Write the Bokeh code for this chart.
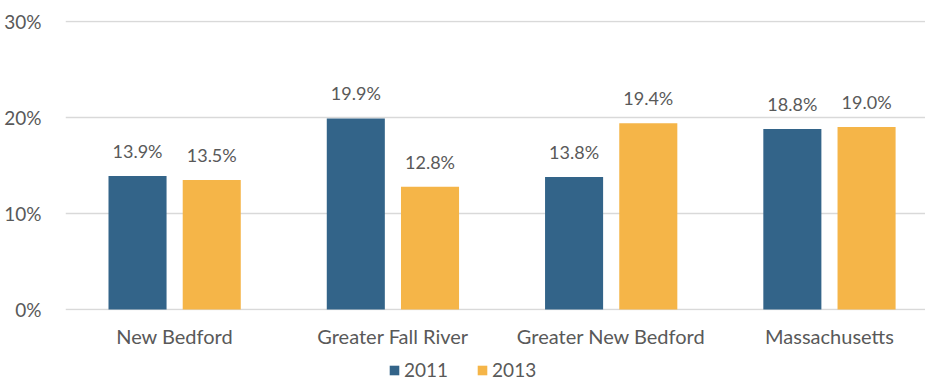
from bokeh.plotting import figure
from bokeh.layouts import column
from bokeh.models import ColumnDataSource, Range1d, NumeralTickFormatter, FixedTicker, Legend, LegendItem
from bokeh.core.properties import value
from bokeh.embed import file_html
from bokeh.resources import INLINE

categories = ["New Bedford", "Greater Fall River", "Greater New Bedford", "Massachusetts"]
series_names = ["2011", "2013"]
values_2011 = [13.9, 19.9, 13.8, 18.8]
values_2013 = [13.5, 12.8, 19.4, 19.0]
y_ticks = [0, 10, 20, 30]

BLUE = "#336489"
ORANGE = "#F5B548"
TEXT = "#595959"
GRID = "#D9D9D9"
FONT = "Lato"

p = figure(width=925, height=355, output_backend="svg", toolbar_location=None,
           x_range=Range1d(-0.5, 3.44), y_range=Range1d(-0.1, 30.1))
p.min_border_left = 65
p.min_border_right = 0
p.min_border_top = 20
p.min_border_bottom = 45
p.outline_line_color = None

xs = list(range(len(categories)))
off = 0.17
w = 0.266
src1 = ColumnDataSource(dict(x=[x - off for x in xs], top=values_2011,
                             lab=[f"{v:.1f}%" for v in values_2011]))
src2 = ColumnDataSource(dict(x=[x + off for x in xs], top=values_2013,
                             lab=[f"{v:.1f}%" for v in values_2013]))
r1 = p.vbar(x="x", top="top", width=w, source=src1, fill_color=BLUE, line_color=None)
r2 = p.vbar(x="x", top="top", width=w, source=src2, fill_color=ORANGE, line_color=None)

for s in (src1, src2):
    p.text(x="x", y="top", text="lab", source=s, text_align="center", text_baseline="alphabetic",
           y_offset=-25, text_font=value(FONT), text_font_size="18px", text_color=TEXT)

p.yaxis.ticker = FixedTicker(ticks=y_ticks)
p.yaxis.formatter = NumeralTickFormatter(format="0")
p.yaxis.major_label_overrides = {t: f"{t}%" for t in y_ticks}
p.yaxis.axis_line_color = None
p.yaxis.major_tick_line_color = None
p.yaxis.minor_tick_line_color = None
p.yaxis.major_label_standoff = 18
p.yaxis.major_label_text_font = FONT
p.yaxis.major_label_text_font_size = "19px"
p.yaxis.major_label_text_color = TEXT

p.xaxis.ticker = FixedTicker(ticks=xs)
p.xaxis.major_label_overrides = {i: c for i, c in enumerate(categories)}
p.xaxis.axis_line_color = None
p.xaxis.major_tick_line_color = None
p.xaxis.minor_tick_line_color = None
p.xaxis.major_label_standoff = 7
p.xaxis.major_label_text_font = FONT
p.xaxis.major_label_text_font_size = "20px"
p.xaxis.major_label_text_color = TEXT

p.xgrid.grid_line_color = None
p.ygrid.grid_line_color = GRID
p.ygrid.grid_line_width = 1.5

# legend strip below the chart (its bars lie outside its visible range)
lg = figure(width=925, height=28, output_backend="svg", toolbar_location=None,
            x_range=Range1d(100, 101), y_range=Range1d(100, 101),
            x_axis_type=None, y_axis_type=None)
lg.min_border_left = 0
lg.min_border_right = 0
lg.min_border_top = 0
lg.min_border_bottom = 0
lg.outline_line_color = None
lg.xgrid.visible = False
lg.ygrid.visible = False
l1 = lg.vbar(x="x", top="top", width=w, source=src1, fill_color=BLUE, line_color=None)
l2 = lg.vbar(x="x", top="top", width=w, source=src2, fill_color=ORANGE, line_color=None)

legend = Legend(items=[LegendItem(label=series_names[0], renderers=[l1]),
                       LegendItem(label=series_names[1], renderers=[l2])],
                orientation="horizontal", location=(323, 2),
                label_text_font=FONT, label_text_font_size="19px", label_text_color=TEXT,
                glyph_width=12, glyph_height=12, label_standoff=4, spacing=28,
                label_height=20, padding=0, margin=0,
                border_line_color=None, background_fill_alpha=0)
lg.add_layout(legend, "center")

layout = column(p, lg, spacing=0)
open("out.html", "w").write(file_html(layout, INLINE))
